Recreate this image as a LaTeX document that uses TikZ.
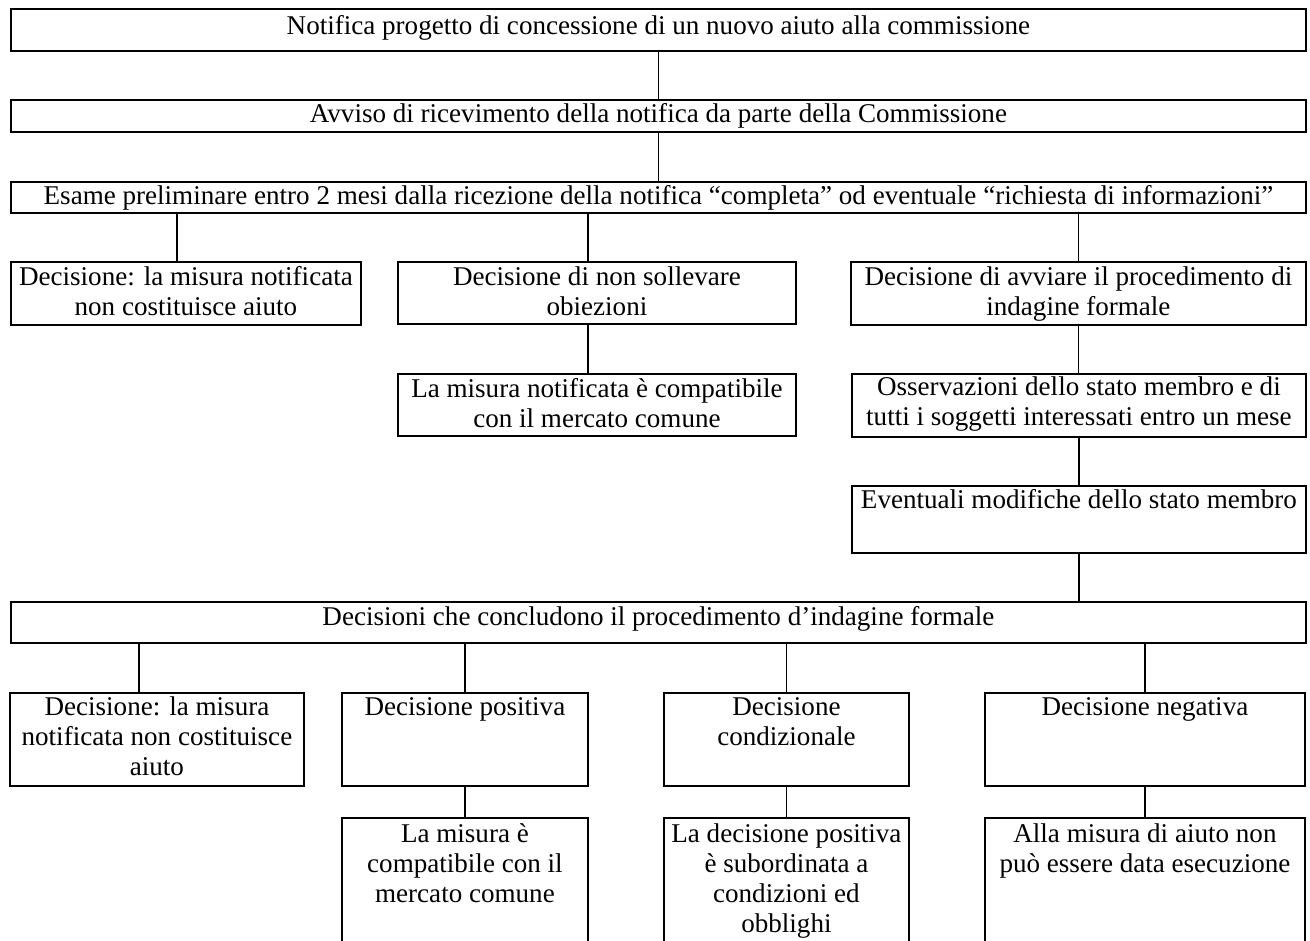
\documentclass[tikz,border=0pt]{standalone}
\usepackage{fontspec}
\setmainfont{Liberation Serif}
\newlength\px
\setlength\px{0.75pt}
\tikzset{
  box/.style={draw, line width=1.4pt, inner sep=0pt, anchor=north west,
    font=\fontsize{20.3pt}{22.5pt}\selectfont},
  link/.style={line width=1.4pt}
}
\newcommand\bx[7]{\node[box] (#1) at (#2,#3) {\parbox[t][#5\px][t]{#4\px}{\centering\vspace*{#6\px}\strut #7}};}
\begin{document}
\begin{tikzpicture}[x=0.75pt,y=-0.75pt]
\useasboundingbox (0,0) rectangle (1310,940);
\clip (0,0) rectangle (1310,940);
\bx{b1}{10}{8}{1295}{42}{5}{Notifica progetto di concessione di un nuovo aiuto alla commissione}
\bx{b2}{10}{99}{1295}{32}{2}{Avviso di ricevimento della notifica da parte della Commissione}
\bx{b3}{10}{181}{1295}{31}{2}{Esame preliminare entro 2 mesi dalla ricezione della notifica “completa” od eventuale “richiesta di informazioni”}
\bx{c1}{10}{261}{350}{63}{3}{Decisione: la misura notificata\\non costituisce aiuto}
\bx{c2}{397}{261}{398}{62}{3}{Decisione di non sollevare\\obiezioni}
\bx{c3}{850}{261}{455}{63}{3}{Decisione di avviare il procedimento di\\indagine formale}
\bx{d2}{397}{373}{398}{62}{3}{La misura notificata è compatibile\\con il mercato comune}
\bx{d3}{851}{373}{454}{63}{1}{Osservazioni dello stato membro e di\\tutti i soggetti interessati entro un mese}
\bx{e3}{851}{485}{454}{67}{2}{Eventuali modifiche dello stato membro}
\bx{f}{10}{601}{1295}{41}{3}{Decisioni che concludono il procedimento d’indagine formale}
\bx{g1}{9}{692}{294}{93}{2}{Decisione: la misura\\notificata non costituisce\\aiuto}
\bx{g2}{341}{692}{246}{93}{2}{Decisione positiva}
\bx{g3}{663}{692}{245}{93}{2}{Decisione\\condizionale}
\bx{g4}{984}{692}{320}{93}{2}{Decisione negativa}
\bx{h2}{341}{817}{246}{150}{4}{La misura è\\compatibile con il\\mercato comune}
\bx{h3}{663}{817}{245}{150}{4}{La decisione positiva\\è subordinata a\\condizioni ed\\obblighi}
\bx{h4}{984}{817}{320}{150}{4}{Alla misura di aiuto non\\può essere data esecuzione}
\draw[link] (b1.south) -- (b2.north);
\draw[link] (b2.south) -- (b3.north);
\draw[link] ([xshift=-6.75pt]c1.north) -- ([xshift=-6.75pt]c1.north |- b3.south);
\draw[link] ([xshift=-6.75pt]c2.north) -- ([xshift=-6.75pt]c2.north |- b3.south);
\draw[link] (c3.north) -- (c3.north |- b3.south);
\draw[link] ([xshift=-6.75pt]c2.south) -- ([xshift=-6.75pt]d2.north);
\draw[link] (c3.south) -- (c3.south |- d3.north);
\draw[link] (d3.south) -- (e3.north);
\draw[link] (e3.south) -- (e3.south |- f.north);
\draw[link] ([xshift=-13.5pt]g1.north) -- ([xshift=-13.5pt]g1.north |- f.south);
\draw[link] (g2.north) -- (g2.north |- f.south);
\draw[link] (g3.north) -- (g3.north |- f.south);
\draw[link] (g4.north) -- (g4.north |- f.south);
\draw[link] (g2.south) -- (h2.north);
\draw[link] (g3.south) -- (h3.north);
\draw[link] (g4.south) -- (h4.north);
\end{tikzpicture}
\end{document}
